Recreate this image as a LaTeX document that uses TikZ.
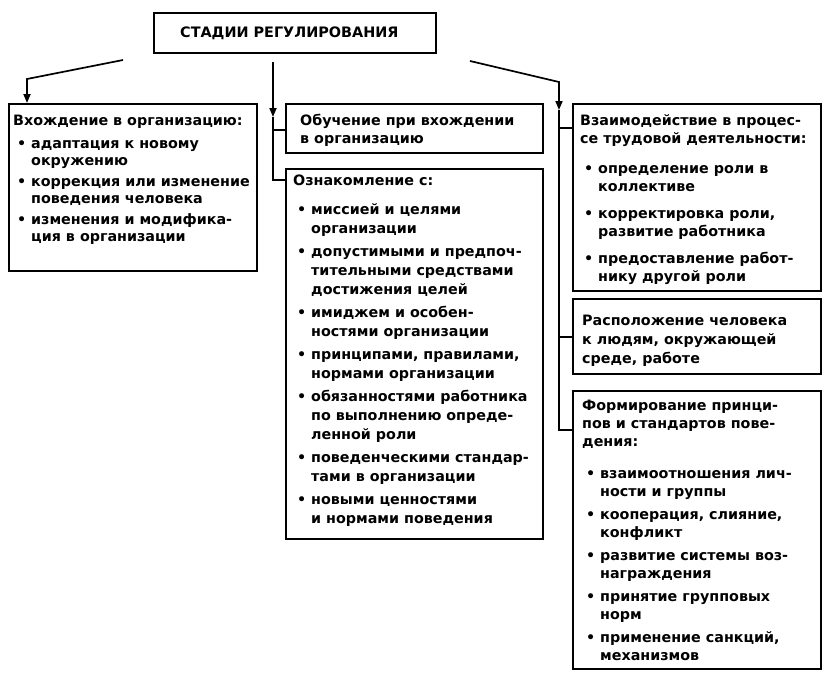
\documentclass[tikz,border=0pt]{standalone}
\usepackage{fontspec}
\setmainfont{DejaVu Sans}
\usetikzlibrary{arrows.meta,calc}
\newcommand\bl{\hspace*{4pt}\makebox[14pt][l]{\textbullet}}
\newcommand\ct{\hspace*{18pt}}
\newcommand\fsz[1]{\fontsize{14.3}{#1}\selectfont\bfseries}
\begin{document}
\begin{tikzpicture}[x=1pt,y=-1pt,
  box/.style={draw, line width=1.7pt, inner sep=0pt, anchor=north west},
  txt/.style={anchor=base west, inner sep=0pt},
  conn/.style={line width=1.7pt},
  arr/.style={line width=1.7pt, -{Triangle[length=9pt,width=7pt]}}]
\useasboundingbox (0,0) rectangle (823,675);
\fill[white] (0,0) rectangle (823,675);
% boxes
\node[box, minimum width=282pt, minimum height=40pt] (T) at (153,12) {};
\node[box, minimum width=248pt, minimum height=167pt] (L) at (8,103) {};
\node[box, minimum width=257pt, minimum height=49pt] (M1) at (285,103) {};
\node[box, minimum width=257pt, minimum height=370pt] (M2) at (285,168) {};
\node[box, minimum width=248pt, minimum height=187pt] (R1) at (572,103) {};
\node[box, minimum width=248pt, minimum height=75pt] (R2) at (572,298) {};
\node[box, minimum width=248pt, minimum height=278pt] (R3) at (572,390) {};
% title
\node[txt, font={\fontsize{14.4}{18}\selectfont\bfseries}] (Tt) at (180,37) {СТАДИИ РЕГУЛИРОВАНИЯ};
% texts
\node[txt, font=\fsz{17}] (Lt) at (13,125.5) {\begin{tabular}[t]{@{}l@{}}
Вхождение в организацию:\\[6pt]
\bl адаптация к новому\\
\ct окружению\\[4pt]
\bl коррекция или изменение\\
\ct поведения человека\\[4pt]
\bl изменения и модифика-\\
\ct ция в организации
\end{tabular}};
\node[txt, font=\fsz{18}] (M1t) at (300,125.5) {\begin{tabular}[t]{@{}l@{}}
Обучение при вхождении\\
в организацию
\end{tabular}};
\node[txt, font=\fsz{19}] (M2t) at (293,185.5) {\begin{tabular}[t]{@{}l@{}}
Ознакомление с:\\[10pt]
\bl миссией и целями\\
\ct организации\\[4pt]
\bl допустимыми и предпоч-\\
\ct тительными средствами\\
\ct достижения целей\\[4pt]
\bl имиджем и особен-\\
\ct ностями организации\\[4pt]
\bl принципами, правилами,\\
\ct нормами организации\\[4pt]
\bl обязанностями работника\\
\ct по выполнению опреде-\\
\ct ленной роли\\[4pt]
\bl поведенческими стандар-\\
\ct тами в организации\\[4pt]
\bl новыми ценностями\\
\ct и нормами поведения
\end{tabular}};
\node[txt, font=\fsz{18}] (R1t) at (580,125.5) {\begin{tabular}[t]{@{}l@{}}
Взаимодействие в процес-\\
се трудовой деятельности:\\[12pt]
\bl определение роли в\\
\ct коллективе\\[9pt]
\bl корректировка роли,\\
\ct развитие работника\\[9pt]
\bl предоставление работ-\\
\ct нику другой роли
\end{tabular}};
\node[txt, font=\fsz{19}] (R2t) at (582,325.5) {\begin{tabular}[t]{@{}l@{}}
Расположение человека\\
к людям, окружающей\\
среде, работе
\end{tabular}};
\node[txt, font=\fsz{18}] (R3t) at (582,410.5) {\begin{tabular}[t]{@{}l@{}}
Формирование принци-\\
пов и стандартов пове-\\
дения:\\[14pt]
\bl взаимоотношения лич-\\
\ct ности и группы\\[5pt]
\bl кооперация, слияние,\\
\ct конфликт\\[5pt]
\bl развитие системы воз-\\
\ct награждения\\[5pt]
\bl принятие групповых\\
\ct норм\\[5pt]
\bl применение санкций,\\
\ct механизмов
\end{tabular}};
% connectors
\coordinate (la) at (123,60);
\coordinate (lb) at (27,79);
\draw[arr] (la) -- (lb) -- (lb |- L.north);
\coordinate (ma) at (273,62);
\coordinate (mb) at (273,117);
\coordinate (mc) at (273,180);
\coordinate (md) at (273,130);
\draw[arr] (ma) -- (mb);
\draw[conn] (mb) -- (mc) -- (mc -| M2.west);
\draw[conn] (md) -- (md -| M1.west);
\coordinate (ra) at (470,61);
\coordinate (rb) at (559,82);
\coordinate (rc) at (559,110);
\coordinate (rd) at (559,430);
\coordinate (re) at (559,128);
\coordinate (rf) at (559,337);
\draw[arr] (ra) -- (rb) -- (rc);
\draw[conn] (rc) -- (rd) -- (rd -| R3.west);
\draw[conn] (re) -- (re -| R1.west);
\draw[conn] (rf) -- (rf -| R2.west);
\end{tikzpicture}
\end{document}
